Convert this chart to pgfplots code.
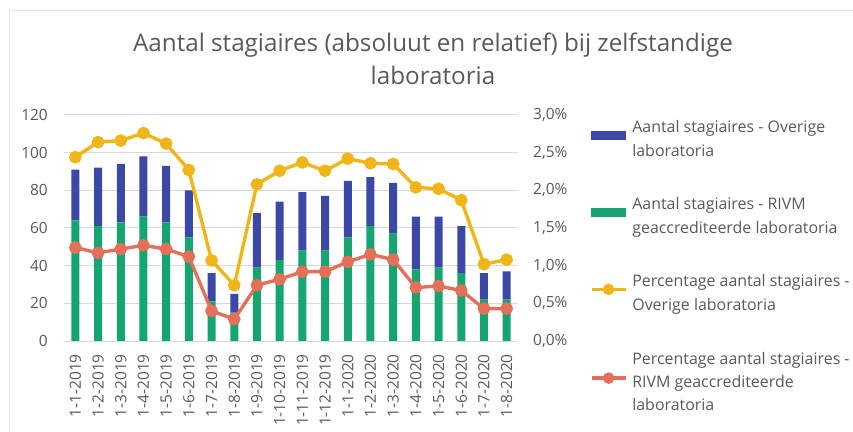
\documentclass[border=0pt]{standalone}
\usepackage{pgfplots}
\usepackage{pgfplotstable}
\pgfplotsset{compat=1.18}
\usepackage{fontspec}
\setmainfont{Open Sans}

\definecolor{cblue}{HTML}{3B48A5}
\definecolor{cgreen}{HTML}{14A571}
\definecolor{cyellow}{HTML}{F0B619}
\definecolor{cred}{HTML}{E5705A}
\definecolor{ctext}{HTML}{595959}
\definecolor{cgrid}{HTML}{D9D9D9}

% x, RIVM count, other count, % other, % RIVM
\pgfplotstableread{
x rivm overig pov prv
0  64 27 2.44 1.24
1  61 31 2.64 1.17
2  63 31 2.66 1.22
3  66 32 2.76 1.27
4  63 30 2.62 1.22
5  55 25 2.27 1.12
6  21 15 1.07 0.40
7  15 10 0.74 0.29
8  39 29 2.08 0.74
9  43 31 2.26 0.82
10 48 31 2.37 0.92
11 48 29 2.26 0.92
12 55 30 2.42 1.05
13 61 26 2.36 1.15
14 57 27 2.35 1.08
15 38 28 2.04 0.71
16 39 27 2.02 0.73
17 36 25 1.87 0.67
18 22 14 1.02 0.43
19 22 15 1.08 0.43
}\data

\pgfplotsset{
  base/.style={
    scale only axis, width=454bp, height=226bp,
    at={(64bp,91bp)}, anchor=south west,
    xmin=-0.5, xmax=19.5,
    axis line style={draw=none}, major tick length=0pt,
    tick label style={font=\fontsize{15.5}{18}\selectfont, color=ctext, inner sep=0pt},
    /pgf/number format/assume math mode=true,
  },
  linelegend/.style={legend image code/.code={
    \draw[##1,mark repeat=2,mark phase=2,mark size=4bp] plot coordinates {(0bp,4bp) (17bp,4bp) (34bp,4bp)};}},
}

\begin{document}
\begin{tikzpicture}
\useasboundingbox (0,0) rectangle (853bp,432bp);
\draw[cgrid!60, line width=1bp] (9.5bp,-10bp) -- (9.5bp,421bp) -- (870bp,421bp);

\node[anchor=base, font=\fontsize{24.3}{29}\selectfont, color=ctext]
  at (433bp,380.5bp) {Aantal stagiaires (absoluut en relatief) bij zelfstandige};
\node[anchor=base, font=\fontsize{24.3}{29}\selectfont, color=ctext]
  at (433bp,347bp) {laboratoria};

\begin{axis}[base,
  ybar stacked, bar width=8bp,
  ymin=0, ymax=120, ytick={0,20,...,120},
  ymajorgrids, grid style={cgrid, line width=1bp},
  xtick={0,...,19},
  xticklabels={1-1-2019,1-2-2019,1-3-2019,1-4-2019,1-5-2019,1-6-2019,1-7-2019,1-8-2019,1-9-2019,1-10-2019,1-11-2019,1-12-2019,1-1-2020,1-2-2020,1-3-2020,1-4-2020,1-5-2020,1-6-2020,1-7-2020,1-8-2020},
  x tick label style={rotate=90, anchor=east},
  xticklabel shift=13bp,
  yticklabel shift=16bp,
]
\addplot[fill=cgreen, draw=none] table[x=x, y=rivm] {\data};
\addplot[fill=cblue, draw=none] table[x=x, y=overig] {\data};
\end{axis}

\begin{axis}[base,
  axis x line=none, axis y line*=right,
  ymin=0, ymax=3, ytick={0,0.5,...,3},
  yticklabel={\pgfmathprintnumber[fixed,fixed zerofill,precision=1,use comma]{\tick}\%},
  yticklabel shift=15bp,
  legend style={draw=none, fill=none, at={(1.158,0.975)}, anchor=north west,
    font=\fontsize{16}{23.5}\selectfont, text=ctext, inner sep=0pt,
    row sep=40bp, column sep=5bp, nodes={inner sep=0pt, align=left}},
  legend cell align=left,
]
\addlegendimage{legend image code/.code={\fill[cblue] (0bp,0bp) rectangle (34bp,8bp);}}
\addlegendimage{legend image code/.code={\fill[cgreen] (0bp,0bp) rectangle (34bp,8bp);}}
\addplot[cyellow, line width=3.4bp, mark=*, mark size=4.6bp, linelegend]
  table[x=x, y=pov] {\data};
\addplot[cred, line width=3.4bp, mark=*, mark size=4.6bp, linelegend]
  table[x=x, y=prv] {\data};
\legend{Aantal stagiaires - Overige\\laboratoria,
  Aantal stagiaires - RIVM\\geaccrediteerde laboratoria,
  Percentage aantal stagiaires -\\Overige laboratoria,
  Percentage aantal stagiaires -\\RIVM geaccrediteerde\\laboratoria}
\end{axis}
\end{tikzpicture}
\end{document}
